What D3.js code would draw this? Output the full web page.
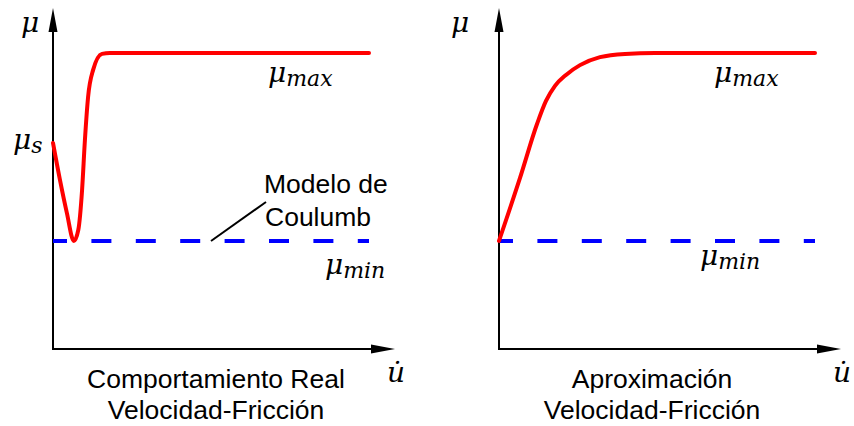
<!DOCTYPE html>
<html>
<head>
<meta charset="utf-8">
<script src="https://cdn.jsdelivr.net/npm/d3@7"></script>
<style>
  html, body { margin: 0; padding: 0; background: #fff; }
  svg { display: block; }
  .txt { font-family: "Liberation Sans", Arial, sans-serif; font-size: 26.5px; fill: #000; }
  .math { font-family: "DejaVu Serif", serif; font-style: italic; fill: #000; }
</style>
</head>
<body>
<svg id="chart" width="854" height="426"></svg>
<script>
// Friction coefficient levels
const muMax = 1.0;
const muMin = 0.365;
const muS = 0.696;

// Real Stribeck-type behaviour: velocity vs friction coefficient
const uReal  = [0, 0.22, 0.44, 0.66, 0.80, 0.92, 1.01, 1.11, 1.27, 1.55, 1.80, 10];
const muReal = [0.696, 0.571, 0.459, 0.365, 0.402, 0.537, 0.706, 0.851, 0.943, 0.997, 1.0, 1.0];

// Approximated behaviour
const uApprox  = [0, 0.665, 1.203, 1.487, 1.772, 2.120, 2.563, 3.196, 3.987, 4.937, 10];
const muApprox = [0.365, 0.578, 0.760, 0.838, 0.889, 0.926, 0.959, 0.986, 0.997, 1.0, 1.0];

// Coulomb model: constant friction
const uCoulomb = [0, 10];

const svg = d3.select("#chart");

const y = d3.scaleLinear().domain([0, 1]).range([349, 53]);

function drawPanel(x0, uData, muData, opts) {
  const x = d3.scaleLinear().domain([0, 10]).range([x0, x0 + 316]);
  const g = svg.append("g");
  const axisTop = 8, xEnd = x(10) + 26;

  // axes
  g.append("line").attr("x1", x(0)).attr("x2", x(0)).attr("y1", y(0) + 1).attr("y2", axisTop + 20)
    .attr("stroke", "#000").attr("stroke-width", 2);
  g.append("line").attr("x1", x(0) - 1).attr("x2", xEnd - 20).attr("y1", y(0)).attr("y2", y(0))
    .attr("stroke", "#000").attr("stroke-width", 2);
  // arrowheads
  g.append("path")
    .attr("d", `M${x(0)},${axisTop} L${x(0) - 4.5},${axisTop + 24} L${x(0) + 4.5},${axisTop + 24} Z`)
    .attr("fill", "#000");
  g.append("path")
    .attr("d", `M${xEnd},${y(0)} L${xEnd - 24},${y(0) - 4.5} L${xEnd - 24},${y(0) + 4.5} Z`)
    .attr("fill", "#000");

  // Coulomb line
  g.append("path")
    .datum(uCoulomb.map(u => [u, muMin]))
    .attr("d", d3.line().x(d => x(d[0])).y(d => y(d[1])))
    .attr("fill", "none").attr("stroke", "#0000ff").attr("stroke-width", 4)
    .attr("stroke-dasharray", "20 24.4").attr("stroke-dashoffset", 6);

  // friction curve
  g.append("path")
    .datum(uData.map((u, i) => [u, muData[i]]))
    .attr("d", d3.line().x(d => x(d[0])).y(d => y(d[1])).curve(d3.curveMonotoneX))
    .attr("fill", "none").attr("stroke", "#ff0000").attr("stroke-width", 4)
    .attr("stroke-linecap", "round").attr("stroke-linejoin", "round");

  // math labels
  function mathLabel(px, py, sub) {
    const t = g.append("text").attr("class", "math").attr("x", px).attr("y", py);
    t.append("tspan").attr("font-size", 28).text("μ");
    if (sub) t.append("tspan").attr("font-size", 22).attr("dy", 4).text(sub);
    return t;
  }
  mathLabel(opts.muX, 32, null);
  mathLabel(x0 + 215, y(muMax) + 29, "max");
  mathLabel(x0 + opts.minDx, y(muMin) + opts.minDy, "min");
  if (opts.showS) mathLabel(13, y(muS) + 6, "s");

  // velocity label u with dot
  g.append("text").attr("class", "math").attr("x", xEnd - 8).attr("y", 382)
    .attr("font-size", 28).text("u\u0307");

  // caption
  const cap = g.append("text").attr("class", "txt").attr("text-anchor", "middle");
  opts.caption.forEach((line, i) => {
    cap.append("tspan").attr("x", opts.capX).attr("y", 388 + i * 31).text(line);
  });
  return { g, x };
}

const left = drawPanel(53, uReal, muReal, {
  muX: 21, minDx: 272, minDy: 33, showS: true, capX: 216,
  caption: ["Comportamiento Real", "Velocidad-Fricción"]
});

// annotation for the Coulomb model
left.g.append("line")
  .attr("x1", left.x(5)).attr("y1", y(muMin))
  .attr("x2", left.x(5) + 55).attr("y2", y(muMin) - 39)
  .attr("stroke", "#000").attr("stroke-width", 2);
const note = left.g.append("text").attr("class", "txt");
note.append("tspan").attr("x", 264).attr("y", 193).text("Modelo de");
note.append("tspan").attr("x", 265).attr("y", 226).text("Coulumb");

drawPanel(499, uApprox, muApprox, {
  muX: 451, minDx: 201, minDy: 24, showS: false, capX: 652,
  caption: ["Aproximación", "Velocidad-Fricción"]
});
</script>
</body>
</html>
